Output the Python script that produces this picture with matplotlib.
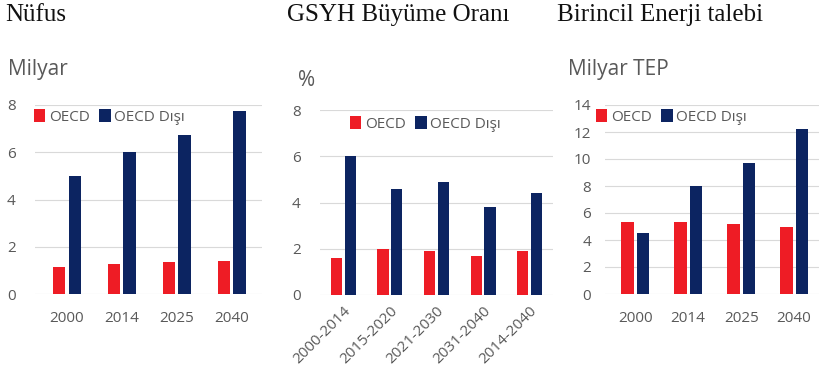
import matplotlib.pyplot as plt
import numpy as np

years = ['2000', '2014', '2025', '2040']
pop_oecd = [1.15, 1.25, 1.35, 1.4]
pop_non = [5.0, 6.0, 6.75, 7.75]

periods = ['2000-2014', '2015-2020', '2021-2030', '2031-2040', '2014-2040']
gdp_oecd = [1.6, 2.0, 1.9, 1.7, 1.9]
gdp_non = [6.0, 4.6, 4.9, 3.8, 4.4]

energy_oecd = [5.3, 5.3, 5.2, 5.0]
energy_non = [4.5, 8.0, 9.7, 12.2]

RED = '#ee1c25'
NAVY = '#0c2461'
GREY = '#595959'
W, H = 819, 379

plt.rcParams['font.family'] = ['Open Sans', 'DejaVu Sans']


def box(x0, y0, x1, y1):
    return [x0 / W, 1 - y1 / H, (x1 - x0) / W, (y1 - y0) / H]


def bar_panel(fig, rect, cats, a, b, ymax, ystep, width, xlim, rot=0):
    ax = fig.add_axes(rect)
    x = np.arange(len(cats))
    ax.bar(x - width / 2 - 0.03, a, width, color=RED, label='OECD', zorder=3)
    ax.bar(x + width / 2 + 0.03, b, width, color=NAVY, label='OECD Dışı', zorder=3)
    ax.set_xlim(*xlim)
    ax.set_ylim(0, ymax)
    ax.set_yticks(np.arange(0, ymax + 0.1, ystep))
    ax.set_xticks(x)
    if rot:
        ax.set_xticklabels(cats, rotation=rot, ha='right', rotation_mode='anchor')
    else:
        ax.set_xticklabels(cats)
    ax.grid(axis='y', color='#d9d9d9', lw=0.8, zorder=0)
    for s in ax.spines.values():
        s.set_visible(False)
    ax.tick_params(length=0, colors=GREY, labelsize=11)
    ax.tick_params(axis='x', pad=12 if not rot else 6)
    ax.tick_params(axis='y', pad=14)
    return ax


fig = plt.figure(figsize=(W / 100, H / 100), dpi=100)

ax1 = bar_panel(fig, box(35, 105, 262, 294), years, pop_oecd, pop_non, 8, 2, 0.22,
                (-0.58, 3.55))
ax2 = bar_panel(fig, box(320, 110, 553, 295), periods, gdp_oecd, gdp_non, 8, 2, 0.24,
                (-0.5, 4.5), rot=45)
ax3 = bar_panel(fig, box(605, 105, 819, 294), years, energy_oecd, energy_non, 14, 2, 0.23,
                (-0.57, 3.47))
ax3.tick_params(axis='y', pad=10)

legend_kw = dict(frameon=False, fontsize=11, handlelength=0.75, handleheight=0.9,
                 handletextpad=0.25, columnspacing=0.6, ncol=2, labelcolor=GREY,
                 loc='upper left', borderaxespad=0, borderpad=0)
for ax, lx, ly in [(ax1, 34, 109), (ax2, 350, 116), (ax3, 596, 109)]:
    ax.legend(bbox_to_anchor=(lx / W, 1 - ly / H), bbox_transform=fig.transFigure, **legend_kw)

serif = ['Liberation Serif', 'DejaVu Serif']
for tx, t in [(5, 'Nüfus'), (287, 'GSYH Büyüme Oranı'), (557, 'Birincil Enerji talebi')]:
    fig.text(tx / W, 1 - 15 / H, t, family=serif, fontsize=18, va='center', ha='left', color='#111111')

for tx, ty, t in [(8, 70, 'Milyar'), (298, 80, '%'), (568, 70, 'Milyar TEP')]:
    fig.text(tx / W, 1 - ty / H, t, fontsize=15, va='center', ha='left', color=GREY)

fig.savefig('out.png', dpi=100, facecolor='white')
